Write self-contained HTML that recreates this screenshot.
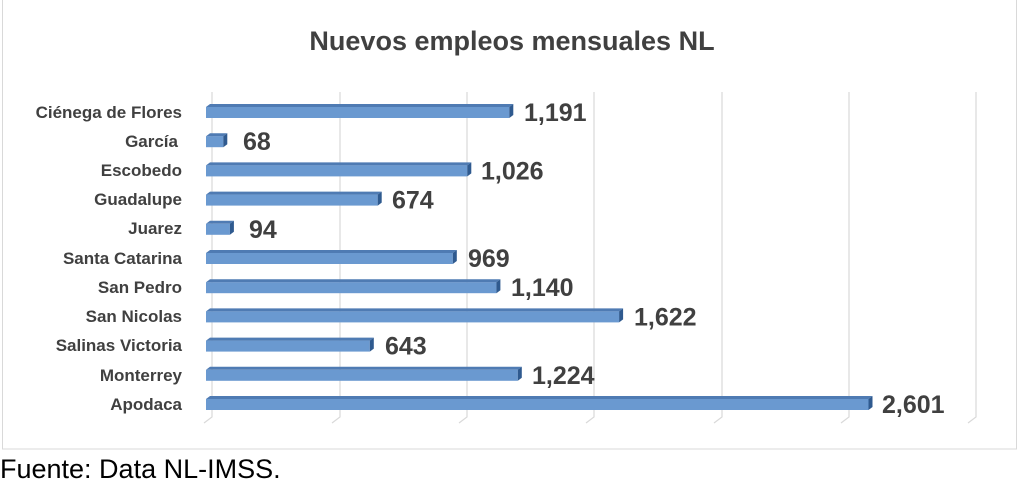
<!DOCTYPE html>
<html><head><meta charset="utf-8"><style>
body{margin:0;background:#fff;width:1024px;height:484px;overflow:hidden;font-family:"Liberation Sans",sans-serif}
</style></head><body>
<svg width="1024" height="484" viewBox="0 0 1024 484" xmlns="http://www.w3.org/2000/svg">
<rect x="2.5" y="-1" width="1014" height="450" fill="#fff" stroke="#d9d9d9" stroke-width="1"/>
<text x="512" y="50" text-anchor="middle" font-family="Liberation Sans, sans-serif" font-weight="bold" font-size="27" fill="#404040">Nuevos empleos mensuales NL</text>
<g stroke="#d9d9d9" stroke-width="1.2" fill="none">
<path d="M212,92 V417 L204,423"/><path d="M340,92 V417 L332,423"/><path d="M467,92 V417 L459,423"/><path d="M594,92 V417 L586,423"/><path d="M722,92 V417 L714,423"/><path d="M849,92 V417 L841,423"/><path d="M976,92 V417 L968,423"/>
</g>
<g font-family="Liberation Sans, sans-serif" font-weight="bold" font-size="17" fill="#404040" text-anchor="end">
<text x="182" y="118">Ciénega de Flores</text><text x="178" y="147">García</text><text x="182" y="176">Escobedo</text><text x="182" y="205">Guadalupe</text><text x="182" y="234">Juarez</text><text x="182" y="264">Santa Catarina</text><text x="182" y="293">San Pedro</text><text x="182" y="322">San Nicolas</text><text x="182" y="351">Salinas Victoria</text><text x="182" y="381">Monterrey</text><text x="182" y="410">Apodaca</text>
</g>
<defs>
<g id="d"></g>
</defs>
<g font-family="Liberation Sans, sans-serif" font-weight="bold" font-size="25" fill="#404040">
<g transform="translate(206,112)"><rect x="0" y="-5" width="303.3" height="11" fill="#6a99d0"/><polygon points="0,-5 4,-8 307.3,-8 303.3,-5" fill="#4f7bb3"/><polygon points="303.3,-5 307.3,-8 307.3,3 303.3,6" fill="#2f5a8f"/><text x="318" y="9">1,191</text></g>
<g transform="translate(206,141.2)"><rect x="0" y="-5" width="17.3" height="11" fill="#6a99d0"/><polygon points="0,-5 4,-8 21.3,-8 17.3,-5" fill="#4f7bb3"/><polygon points="17.3,-5 21.3,-8 21.3,3 17.3,6" fill="#2f5a8f"/><text x="37" y="9">68</text></g>
<g transform="translate(206,170.4)"><rect x="0" y="-5" width="261.3" height="11" fill="#6a99d0"/><polygon points="0,-5 4,-8 265.3,-8 261.3,-5" fill="#4f7bb3"/><polygon points="261.3,-5 265.3,-8 265.3,3 261.3,6" fill="#2f5a8f"/><text x="275" y="9">1,026</text></g>
<g transform="translate(206,199.6)"><rect x="0" y="-5" width="171.7" height="11" fill="#6a99d0"/><polygon points="0,-5 4,-8 175.7,-8 171.7,-5" fill="#4f7bb3"/><polygon points="171.7,-5 175.7,-8 175.7,3 171.7,6" fill="#2f5a8f"/><text x="186" y="9">674</text></g>
<g transform="translate(206,228.8)"><rect x="0" y="-5" width="23.9" height="11" fill="#6a99d0"/><polygon points="0,-5 4,-8 27.9,-8 23.9,-5" fill="#4f7bb3"/><polygon points="23.9,-5 27.9,-8 27.9,3 23.9,6" fill="#2f5a8f"/><text x="43" y="9">94</text></g>
<g transform="translate(206,258)"><rect x="0" y="-5" width="246.8" height="11" fill="#6a99d0"/><polygon points="0,-5 4,-8 250.8,-8 246.8,-5" fill="#4f7bb3"/><polygon points="246.8,-5 250.8,-8 250.8,3 246.8,6" fill="#2f5a8f"/><text x="262" y="9">969</text></g>
<g transform="translate(206,287.2)"><rect x="0" y="-5" width="290.4" height="11" fill="#6a99d0"/><polygon points="0,-5 4,-8 294.4,-8 290.4,-5" fill="#4f7bb3"/><polygon points="290.4,-5 294.4,-8 294.4,3 290.4,6" fill="#2f5a8f"/><text x="305" y="9">1,140</text></g>
<g transform="translate(206,316.4)"><rect x="0" y="-5" width="413.1" height="11" fill="#6a99d0"/><polygon points="0,-5 4,-8 417.1,-8 413.1,-5" fill="#4f7bb3"/><polygon points="413.1,-5 417.1,-8 417.1,3 413.1,6" fill="#2f5a8f"/><text x="428" y="9">1,622</text></g>
<g transform="translate(206,345.6)"><rect x="0" y="-5" width="163.8" height="11" fill="#6a99d0"/><polygon points="0,-5 4,-8 167.8,-8 163.8,-5" fill="#4f7bb3"/><polygon points="163.8,-5 167.8,-8 167.8,3 163.8,6" fill="#2f5a8f"/><text x="179" y="9">643</text></g>
<g transform="translate(206,374.8)"><rect x="0" y="-5" width="311.8" height="11" fill="#6a99d0"/><polygon points="0,-5 4,-8 315.8,-8 311.8,-5" fill="#4f7bb3"/><polygon points="311.8,-5 315.8,-8 315.8,3 311.8,6" fill="#2f5a8f"/><text x="326" y="9">1,224</text></g>
<g transform="translate(206,404)"><rect x="0" y="-5" width="662.5" height="11" fill="#6a99d0"/><polygon points="0,-5 4,-8 666.5,-8 662.5,-5" fill="#4f7bb3"/><polygon points="662.5,-5 666.5,-8 666.5,3 662.5,6" fill="#2f5a8f"/><text x="676" y="9">2,601</text></g>
</g>
<text x="0" y="478" font-family="Liberation Sans, sans-serif" font-size="27" fill="#000">Fuente: Data NL-IMSS.</text>
</svg>
</body></html>
